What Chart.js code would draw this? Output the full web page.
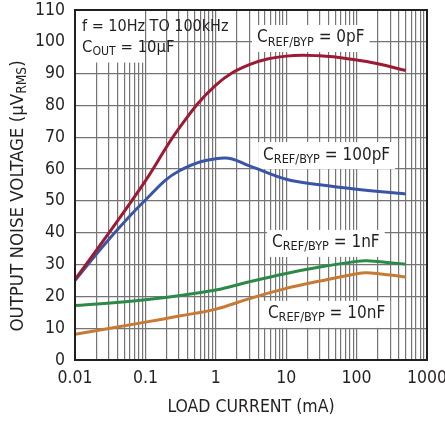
<!DOCTYPE html>
<html lang="en">

<head>
    <meta charset="UTF-8">
    <title>Output Noise Voltage vs Load Current</title>
    <script src="https://cdn.jsdelivr.net/npm/chart.js"></script>
    <style>
        body {
            margin: 0;
            background: #fff;
        }

        .wrap {
            width: 445px;
            height: 421px;
        }
    </style>
</head>

<body>
    <div class="wrap">
        <canvas id="noiseChart"></canvas>
    </div>

    <script>
        // values (load current in mA, noise in uVrms)
        const curr0pF = [0.01, 0.03, 0.1, 0.3, 1, 3, 10, 30, 100, 200, 500];
        const noise0pF = [25.3, 39.8, 56.3, 72.8, 86.4, 92.8, 95.5, 95.6, 94.3, 93.1, 91];

        const curr100pF = [0.01, 0.03, 0.1, 0.3, 1.3, 3, 10, 30, 100, 500];
        const noise100pF = [25, 37.8, 50.3, 59.4, 63.5, 61, 56.8, 55.1, 53.7, 52.2];

        const curr1nF = [0.01, 0.1, 1, 3, 10, 30, 100, 140, 300, 500];
        const noise1nF = [17.1, 18.9, 22, 24.6, 27.2, 29.2, 31, 31.2, 30.6, 30.1];

        const curr10nF = [0.01, 0.1, 0.3, 1, 3, 10, 30, 100, 140, 300, 500];
        const noise10nF = [8.1, 11.9, 13.8, 16, 19.3, 22.5, 24.8, 27.1, 27.4, 26.7, 26.1];

        const xTicks = [0.01, 0.1, 1, 10, 100, 1000];
        const yTicks = [0, 10, 20, 30, 40, 50, 60, 70, 80, 90, 100, 110];

        const ink = '#231f20';
        const gridCol = '#757575';
        const fontFam = "'Liberation Sans Narrow', 'DejaVu Sans Condensed', Arial, sans-serif";

        function pts(xs, ys) {
            return xs.map((x, i) => ({ x: x, y: ys[i] }));
        }

        // minor grid values for the log axis: 1..9 in each decade
        function logGrid() {
            const out = [];
            for (let d = 0; d < xTicks.length - 1; d++) {
                for (let m = 1; m < 10; m++) out.push(xTicks[d] * m);
            }
            out.push(xTicks[xTicks.length - 1]);
            return out;
        }

        // text with optional subscript parts
        function drawRich(ctx, parts, x, y, size) {
            let cx = x;
            ctx.textBaseline = 'middle';
            ctx.textAlign = 'left';
            parts.forEach(p => {
                const s = p.sub ? size * 0.74 : size;
                ctx.font = s + 'px ' + fontFam;
                ctx.fillText(p.t, cx, p.sub ? y + size * 0.25 : y);
                cx += ctx.measureText(p.t).width;
            });
            return cx - x;
        }

        function richWidth(ctx, parts, size) {
            let w = 0;
            parts.forEach(p => {
                ctx.font = (p.sub ? size * 0.74 : size) + 'px ' + fontFam;
                w += ctx.measureText(p.t).width;
            });
            return w;
        }

        const capRef = (v) => [{ t: 'C' }, { t: 'REF/BYP', sub: true }, { t: ' = ' + v }];

        // labels anchored in data coordinates (left edge, vertical centre)
        const notes = [
            { parts: [{ t: 'f = 10Hz TO 100kHz' }], x: 0.0126, y: 104.7, size: 16, box: false },
            { parts: [{ t: 'C' }, { t: 'OUT', sub: true }, { t: ' = 10µF' }], x: 0.0126, y: 98.1, size: 16.5, box: false },
            { parts: capRef('0pF'), x: 3.85, y: 101.2, size: 17, box: true },
            { parts: capRef('100pF'), x: 4.7, y: 64.4, size: 17, box: true },
            { parts: capRef('1nF'), x: 6.3, y: 36.8, size: 17, box: true },
            { parts: capRef('10nF'), x: 5.5, y: 14.5, size: 17, box: true }
        ];

        const notesPlugin = {
            id: 'notes',
            beforeDatasetsDraw(chart) {
                const ctx = chart.ctx;
                const xs = chart.scales.x, ys = chart.scales.y;
                const area = chart.chartArea;
                ctx.save();
                ctx.fillStyle = '#fff';
                // conditions box in the top left corner
                const top = ys.getPixelForValue(110);
                ctx.fillRect(area.left + 1, top + 1, xs.getPixelForValue(0.0955) - area.left - 1, ys.getPixelForValue(93.8) - top);
                notes.forEach(n => {
                    if (!n.box) return;
                    const w = richWidth(ctx, n.parts, n.size);
                    const px = xs.getPixelForValue(n.x), py = ys.getPixelForValue(n.y);
                    ctx.fillStyle = '#fff';
                    ctx.fillRect(px - 5, py - 13, w + 10, 27);
                });
                ctx.restore();
            },
            afterDraw(chart) {
                const ctx = chart.ctx;
                const xs = chart.scales.x, ys = chart.scales.y;
                const area = chart.chartArea;
                ctx.save();
                ctx.fillStyle = ink;
                notes.forEach(n => {
                    drawRich(ctx, n.parts, xs.getPixelForValue(n.x), ys.getPixelForValue(n.y), n.size);
                });
                // frame
                ctx.strokeStyle = ink;
                ctx.lineWidth = 2;
                ctx.strokeRect(area.left, area.top, area.right - area.left, area.bottom - area.top);
                // y axis title with subscript
                const title = [{ t: 'OUTPUT NOISE VOLTAGE (µV' }, { t: 'RMS', sub: true }, { t: ')' }];
                const tw = richWidth(ctx, title, 18.5);
                ctx.translate(18, (area.top + area.bottom) / 2 + 11);
                ctx.rotate(-Math.PI / 2);
                ctx.fillStyle = ink;
                drawRich(ctx, title, -tw / 2, 0, 18.5);
                ctx.restore();
            }
        };

        const ctx = document.getElementById('noiseChart').getContext('2d');
        const noiseChart = new Chart(ctx, {
            type: 'line',
            data: {
                datasets: [
                    { label: '0pF', data: pts(curr0pF, noise0pF), borderColor: '#9d1a34' },
                    { label: '100pF', data: pts(curr100pF, noise100pF), borderColor: '#3a55a5' },
                    { label: '1nF', data: pts(curr1nF, noise1nF), borderColor: '#2b8a48' },
                    { label: '10nF', data: pts(curr10nF, noise10nF), borderColor: '#c77a33' }
                ]
            },
            options: {
                responsive: true,
                maintainAspectRatio: false,
                animation: false,
                layout: { padding: { top: 10, right: 18, left: 0, bottom: 0 } },
                elements: {
                    point: { radius: 0 },
                    line: { borderWidth: 3, tension: 0.4, fill: false, borderCapStyle: 'butt' }
                },
                plugins: {
                    legend: { display: false },
                    tooltip: { enabled: false }
                },
                scales: {
                    x: {
                        type: 'logarithmic',
                        min: 0.01,
                        max: 1000,
                        afterBuildTicks: (s) => { s.ticks = logGrid().map(v => ({ value: v })); },
                        afterFit: (s) => { s.height = 61; s.paddingLeft = 0; s.paddingRight = 0; },
                        ticks: {
                            autoSkip: false,
                            maxRotation: 0,
                            padding: 8,
                            color: ink,
                            font: { family: fontFam, size: 17.5 },
                            callback: (v) => xTicks.includes(v) ? String(v) : ''
                        },
                        grid: { color: gridCol, lineWidth: 1.2, drawTicks: false },
                        border: { color: ink, width: 2 },
                        title: {
                            display: true,
                            text: 'LOAD CURRENT (mA)',
                            color: ink,
                            font: { family: fontFam, size: 17.5 },
                            padding: { top: 0, bottom: 3 }
                        }
                    },
                    y: {
                        min: 0,
                        max: 110,
                        afterBuildTicks: (s) => { s.ticks = yTicks.map(v => ({ value: v })); },
                        afterFit: (s) => { s.width = 75; s.paddingTop = 0; s.paddingBottom = 0; },
                        ticks: {
                            padding: 10,
                            color: ink,
                            font: { family: fontFam, size: 17.5 }
                        },
                        grid: { color: gridCol, lineWidth: 1.2, drawTicks: false },
                        border: { color: ink, width: 2 }
                    }
                }
            },
            plugins: [notesPlugin]
        });
    </script>

</body>

</html>
